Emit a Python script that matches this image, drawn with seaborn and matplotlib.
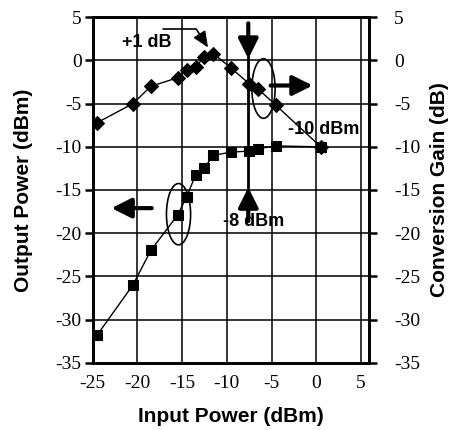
import matplotlib
matplotlib.use("Agg")
import matplotlib.pyplot as plt
from matplotlib.patches import Ellipse
import seaborn as sns
import pandas as pd

# ---- data ----
pin_out = [-24.5, -20.5, -18.5, -15.5, -14.5, -13.5, -12.5, -11.5, -9.5, -7.5, -6.5, -4.5, 0.5]
pout = [-31.8, -26.0, -22.0, -17.9, -15.8, -13.3, -12.4, -11.0, -10.6, -10.5, -10.2, -9.9, -10.0]

pin_gain = [-24.5, -20.5, -18.5, -15.5, -14.5, -13.5, -12.5, -11.5, -9.5, -7.5, -6.5, -4.5, 0.5]
gain = [-7.2, -5.0, -3.0, -2.0, -1.1, -0.7, 0.4, 0.8, -0.9, -2.7, -3.3, -5.2, -10.0]

x_ticks = [-25, -20, -15, -10, -5, 0, 5]
y_ticks = [5, 0, -5, -10, -15, -20, -25, -30, -35]

df_out = pd.DataFrame({"pin": pin_out, "pout": pout})
df_gain = pd.DataFrame({"pin": pin_gain, "gain": gain})

sns.set_theme(style="white")
plt.rcParams["font.family"] = ["Liberation Serif", "DejaVu Serif"]
plt.rcParams.update({"text.color": "black", "axes.labelcolor": "black",
                     "xtick.color": "black", "ytick.color": "black"})

fig = plt.figure(figsize=(4.51, 4.30), dpi=100)
ax = fig.add_axes([0.2055, 0.1565, 0.6133, 0.8033])
ax2 = ax.twinx()

XMAX = 5.93
for a in (ax, ax2):
    a.set_xlim(-25, XMAX)
    a.set_ylim(-35, 5)
    a.set_yticks(y_ticks)

# grid
for xv in x_ticks:
    ax.axvline(xv, color="black", lw=1.1, zorder=0)
for yv in y_ticks:
    ax.axhline(yv, color="black", lw=1.1, zorder=0)

sns.lineplot(data=df_out, x="pin", y="pout", ax=ax, color="black", lw=1.0,
             marker="s", markersize=7, markeredgecolor="black", estimator=None, sort=False)
sns.lineplot(data=df_gain, x="pin", y="gain", ax=ax2, color="black", lw=1.0,
             marker="D", markersize=7.5, markeredgecolor="black", estimator=None, sort=False)

# spines & ticks
for a in (ax, ax2):
    for s in a.spines.values():
        s.set_color("black")
        s.set_linewidth(2.0)
        s.set_visible(True)

ax.set_xticks(x_ticks)
ax.set_xticklabels([str(v) for v in x_ticks], fontsize=14, color="black")
ax.set_yticklabels([str(v) for v in y_ticks], fontsize=14, color="black")
ax.tick_params(axis="x", length=0, pad=9, labelcolor="black")
ax.tick_params(axis="y", direction="out", length=6, width=1.8, color="black", pad=2, left=True,
               labelcolor="black")
ax2.set_yticklabels([str(v) for v in y_ticks], fontsize=14, color="black")
ax2.tick_params(axis="y", direction="out", length=6, width=1.8, color="black", pad=12, right=True,
                labelcolor="black")

lab_font = dict(family=["Liberation Sans", "DejaVu Sans"], weight="bold", size=15, color="black")
ax.set_xlabel("Input Power (dBm)", **lab_font)
ax.set_ylabel("Output Power (dBm)", **lab_font)
ax2.set_ylabel("Conversion Gain (dB)", **lab_font)
ax.xaxis.set_label_coords(0.5, -0.128)
ax.yaxis.set_label_coords(-0.216, 0.5)
ax2.yaxis.set_label_coords(1.219, 0.5)

ann_font = dict(family=["Liberation Sans", "DejaVu Sans"], weight="bold", size=13, color="black")
fat = dict(arrowstyle="-|>,head_length=1.0,head_width=0.5", lw=3, color="black",
           shrinkA=0, shrinkB=0)

# ellipses
ax.add_patch(Ellipse((-5.9, -3.25), 2.6, 6.9, fill=False, ec="black", lw=1.2, zorder=5))
ax.add_patch(Ellipse((-15.4, -17.8), 2.7, 7.1, fill=False, ec="black", lw=1.2, zorder=5))

# side arrows
ax.annotate("", xy=(-0.4, -2.9), xytext=(-5.1, -2.9), arrowprops=fat, zorder=6)
ax.annotate("", xy=(-22.9, -17.1), xytext=(-18.4, -17.1), arrowprops=fat, zorder=6)

# vertical marker at -7.6
ax.plot([-7.6, -7.6], [0.5, -14.8], color="black", lw=2.0, zorder=4)
ax.annotate("", xy=(-7.6, 0.2), xytext=(-7.6, 4.3), arrowprops=fat, zorder=6)
ax.annotate("", xy=(-7.6, -14.7), xytext=(-7.6, -18.6), arrowprops=fat, zorder=6)

# +1 dB bent arrow
ax.plot([-17.1, -13.4], [3.6, 3.6], color="black", lw=1.2, zorder=6)
ax.annotate("", xy=(-12.1, 1.5), xytext=(-13.4, 3.6),
            arrowprops=dict(arrowstyle="-|>,head_length=0.8,head_width=0.35", lw=1.2,
                            color="black", shrinkA=0, shrinkB=0), zorder=6)

ax.text(-19.0, 2.1, "+1 dB", ha="center", va="center", zorder=7, **ann_font)
ax.text(0.8, -8.0, "-10 dBm", ha="center", va="center", zorder=7, **ann_font)
ax.text(-7.0, -18.7, "-8 dBm", ha="center", va="center", zorder=7, **ann_font)

fig.savefig("out.png", dpi=100)
